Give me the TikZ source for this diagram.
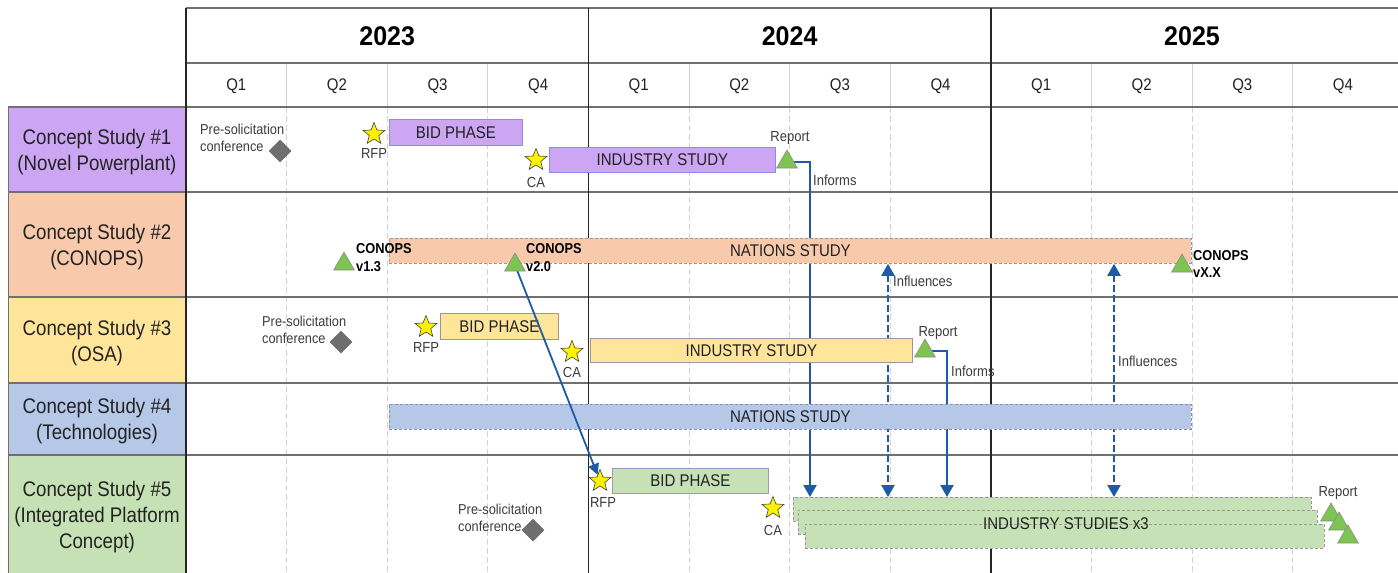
\documentclass[tikz,border=0pt]{standalone}
\usepackage{graphicx}
\usepackage{fontspec}
\setmainfont{Liberation Sans}
\usetikzlibrary{shapes.geometric,arrows.meta}
\definecolor{purp}{HTML}{CCA6F2}
\definecolor{peach}{HTML}{F8C9AA}
\definecolor{gold}{HTML}{FFE59A}
\definecolor{sky}{HTML}{B5C8E8}
\definecolor{mint}{HTML}{C6E1B5}
\definecolor{arrowblue}{HTML}{1F5AA6}
\definecolor{trigreen}{HTML}{7DC451}
\definecolor{gridgray}{HTML}{D2D2D2}
\definecolor{rowline}{HTML}{707070}
\definecolor{txt}{HTML}{222222}
\definecolor{smalltext}{HTML}{3C3C3C}
\definecolor{diagray}{HTML}{6E6E6E}
\newcommand{\vstretch}[1]{\scalebox{1}[1.13]{#1}}
\pgfdeclarelayer{gridlayer}
\pgfdeclarelayer{arrowlayer}
\pgfsetlayers{gridlayer,arrowlayer,main}
\begin{document}
\begin{tikzpicture}[x=1pt,y=-1pt,
  rowlabel/.style={align=center,font=\fontsize{18.7}{23}\selectfont,text=txt,inner sep=0pt,yscale=1.13},
  yearlabel/.style={font=\bfseries\fontsize{25}{30}\selectfont,text=black,inner sep=0pt,yscale=1.08},
  qlabel/.style={font=\fontsize{15}{17}\selectfont,text=txt,inner sep=0pt,yscale=1.12},
  bar/.style={anchor=north west,font=\fontsize{15}{18}\selectfont,text=txt,inner sep=0pt,line width=0.8pt},
  solidbar/.style={bar,draw=#1},
  dashbar/.style={bar,draw=#1,dash pattern=on 3pt off 2pt},
  smalllab/.style={font=\fontsize{13}{15}\selectfont,text=smalltext,inner sep=0pt,yscale=1.12},
  presol/.style={font=\fontsize{12.8}{15}\selectfont,text=smalltext,inner sep=0pt,align=left,anchor=west,yscale=1.12},
  conops/.style={font=\bfseries\fontsize{12.8}{16}\selectfont,text=black,inner sep=0pt,align=left,anchor=west,yscale=1.12},
  mstar/.style={star,star points=5,star point ratio=2.3,minimum size=23pt,inner sep=0pt,fill=yellow,draw=black!75,line width=0.6pt},
  dia/.style={diamond,minimum size=22pt,inner sep=0pt,fill=diagray,draw=black!60,line width=0.5pt},
  tri/.style={regular polygon,regular polygon sides=3,minimum size=24pt,inner sep=0pt,fill=trigreen,draw=black!45,line width=0.6pt},
  arr/.style={draw=arrowblue,line width=2.2pt,-{Triangle[length=12pt,width=13pt]}},
  darr/.style={draw=arrowblue,line width=2.2pt,dash pattern=on 7pt off 3pt,{Triangle[length=12pt,width=13pt]}-{Triangle[length=12pt,width=13pt]}},
  qgrid/.style={draw=gridgray,line width=0.8pt,dash pattern=on 6pt off 3pt},
  hgrid/.style={draw=gridgray,line width=0.8pt},
  yline/.style={draw=black!85,line width=1.4pt},
  rline/.style={draw=rowline,line width=1.2pt}
]
\useasboundingbox (0,0) rectangle (1398,573);

\begin{pgfonlayer}{gridlayer}
  \fill[white] (0,0) rectangle (1398,573);
  % label cells
  \fill[purp]  (8,107) rectangle (186,192);
  \fill[peach] (8,192) rectangle (186,297);
  \fill[gold]  (8,297) rectangle (186,383);
  \fill[sky]   (8,383) rectangle (186,455);
  \fill[mint]  (8,455) rectangle (186,573);
  \draw[rline,line width=0.8pt] (8,107) -- (8,573);
  % header quarter separators
  \foreach \i in {1,2,3,5,6,7,9,10,11}
    \draw[hgrid] ({186+100.6*\i},63) -- ({186+100.6*\i},107);
  % dashed quarter lines
  \foreach \i in {1,2,3,5,6,7,9,10,11}
    \draw[qgrid] ({186+100.6*\i},107) -- ({186+100.6*\i},573);
  % horizontal lines
  \draw[rline] (186,8) -- (1398,8);
  \draw[rline] (186,63) -- (1398,63);
  \foreach \y in {107,192,297,383,455}
    \draw[rline] (8,\y) -- (1398,\y);
  % year lines
  \foreach \i in {0,4,8}
    \draw[yline] ({186+100.6*\i},8) -- ({186+100.6*\i},573);
\end{pgfonlayer}

% header
\node[yearlabel] (y2023) at (387.2,36) {2023};
\node[yearlabel] (y2024) at (789.6,36) {2024};
\node[yearlabel] (y2025) at (1192,36) {2025};
\foreach \i/\q in {0/Q1,1/Q2,2/Q3,3/Q4,4/Q1,5/Q2,6/Q3,7/Q4,8/Q1,9/Q2,10/Q3,11/Q4}
  \node[qlabel] (q\i) at ({236.3+100.6*\i},86) {\q};

% row labels
\node[rowlabel] (r1) at (97,152) {Concept Study \#1\\(Novel Powerplant)};
\node[rowlabel] (r2) at (97,247.5) {Concept Study \#2\\(CONOPS)};
\node[rowlabel] (r3) at (97,343) {Concept Study \#3\\(OSA)};
\node[rowlabel] (r4) at (97,421) {Concept Study \#4\\(Technologies)};
\node[rowlabel] (r5) at (97,517) {Concept Study \#5\\(Integrated Platform\\Concept)};

% ---------- Row 1
\node[presol] (ps1) at (200,137.5) {Pre-solicitation\\conference};
\node[dia] (d1) at (280,151) {};
\node[mstar] (rfp1) at (374,134) {};
\node[smalllab] (rfp1l) at (374,153) {RFP};
\node[solidbar=black!20!blue!45,fill=purp,minimum width=133pt,minimum height=26pt] (bid1) at (389,119) {\vstretch{BID PHASE}};
\node[mstar] (ca1) at (536,160) {};
\node[smalllab] (ca1l) at (536,182) {CA};
\node[solidbar=black!20!blue!45,fill=purp,minimum width=226pt,minimum height=25pt] (ind1) at (549,147) {\vstretch{INDUSTRY STUDY}};
\node[tri] (rep1) at (787,162) {};
\node[smalllab] (rep1l) at (790,138) {Report};
\node[smalllab,anchor=west] (inf1l) at (813,180) {Informs};

% ---------- Row 2
\node[dashbar=black!40,fill=peach,minimum width=802pt,minimum height=25pt] (nat2) at (389,238) {\vstretch{NATIONS STUDY}};
\node[tri] (c13) at (344,264) {};
\node[conops] (c13l) at (356,258) {CONOPS\\v1.3};
\node[tri] (c20) at (515,265) {};
\node[conops] (c20l) at (526,258) {CONOPS\\v2.0};
\node[tri] (cxx) at (1182,266) {};
\node[conops] (cxxl) at (1193,264) {CONOPS\\vX.X};
\node[smalllab,anchor=west] (infl1l) at (893,281) {Influences};
\node[smalllab,anchor=west] (infl2l) at (1118,361) {Influences};

% ---------- Row 3
\node[presol] (ps3) at (262,330) {Pre-solicitation\\conference};
\node[dia] (d3) at (341,342) {};
\node[mstar] (rfp3) at (426,327) {};
\node[smalllab] (rfp3l) at (426,347) {RFP};
\node[solidbar=black!40,fill=gold,minimum width=118pt,minimum height=26pt] (bid3) at (440,313) {\vstretch{BID PHASE}};
\node[mstar] (ca3) at (572,352) {};
\node[smalllab] (ca3l) at (572,372) {CA};
\node[solidbar=black!40,fill=gold,minimum width=322pt,minimum height=24pt] (ind3) at (590,338) {\vstretch{INDUSTRY STUDY}};
\node[tri] (rep3) at (925,351) {};
\node[smalllab] (rep3l) at (938,333) {Report};
\node[smalllab,anchor=west] (inf3l) at (951,371) {Informs};

% ---------- Row 4
\node[dashbar=blue!30!black!45,fill=sky,minimum width=802pt,minimum height=25pt] (nat4) at (389,404) {\vstretch{NATIONS STUDY}};

% ---------- Row 5
\node[presol] (ps5) at (458,518) {Pre-solicitation\\conference};
\node[dia] (d5) at (533,530) {};
\node[mstar] (rfp5) at (600,481) {};
\node[smalllab] (rfp5l) at (603,502) {RFP};
\node[solidbar=blue!40!black!40,fill=mint,minimum width=156pt,minimum height=25pt] (bid5) at (612,468) {\vstretch{BID PHASE}};
\node[mstar] (ca5) at (773,508) {};
\node[smalllab] (ca5l) at (773,530) {CA};
\node[dashbar=black!40,fill=mint,minimum width=518pt,minimum height=24pt] (ind5a) at (793,497) {};
\node[dashbar=black!40,fill=mint,minimum width=519pt,minimum height=24pt] (ind5b) at (798,510) {};
\node[dashbar=black!40,fill=mint,minimum width=519pt,minimum height=24pt] (ind5c) at (805,524) {};
\node[font=\fontsize{15}{18}\selectfont,text=txt,inner sep=0pt] (ind5t) at (1066,524) {\vstretch{INDUSTRY STUDIES x3}};
\node[tri] (rep5a) at (1331,515) {};
\node[tri] (rep5b) at (1339,524) {};
\node[tri] (rep5c) at (1348,537) {};
\node[smalllab] (rep5l) at (1338,493) {Report};

% ---------- connectors
\coordinate (xa) at (810,0);
\coordinate (xb) at (888,0);
\coordinate (xc) at (947,0);
\coordinate (xd) at (1114,0);
\begin{pgfonlayer}{arrowlayer}
  \draw[arr] (rep1.east) -- (rep1.east -| xa) -- (ind5a.north -| xa);
  \draw[arr] (rep3.east) -- (rep3.east -| xc) -- (ind5a.north -| xc);
  \draw[darr] (nat2.south -| xb) -- (ind5a.north -| xb);
  \draw[darr] (nat2.south -| xd) -- (ind5a.north -| xd);
\end{pgfonlayer}
\draw[draw=arrowblue,line width=1.8pt,-{Triangle[length=11pt,width=11pt]}] (c20) -- (rfp5);
\end{tikzpicture}
\end{document}
